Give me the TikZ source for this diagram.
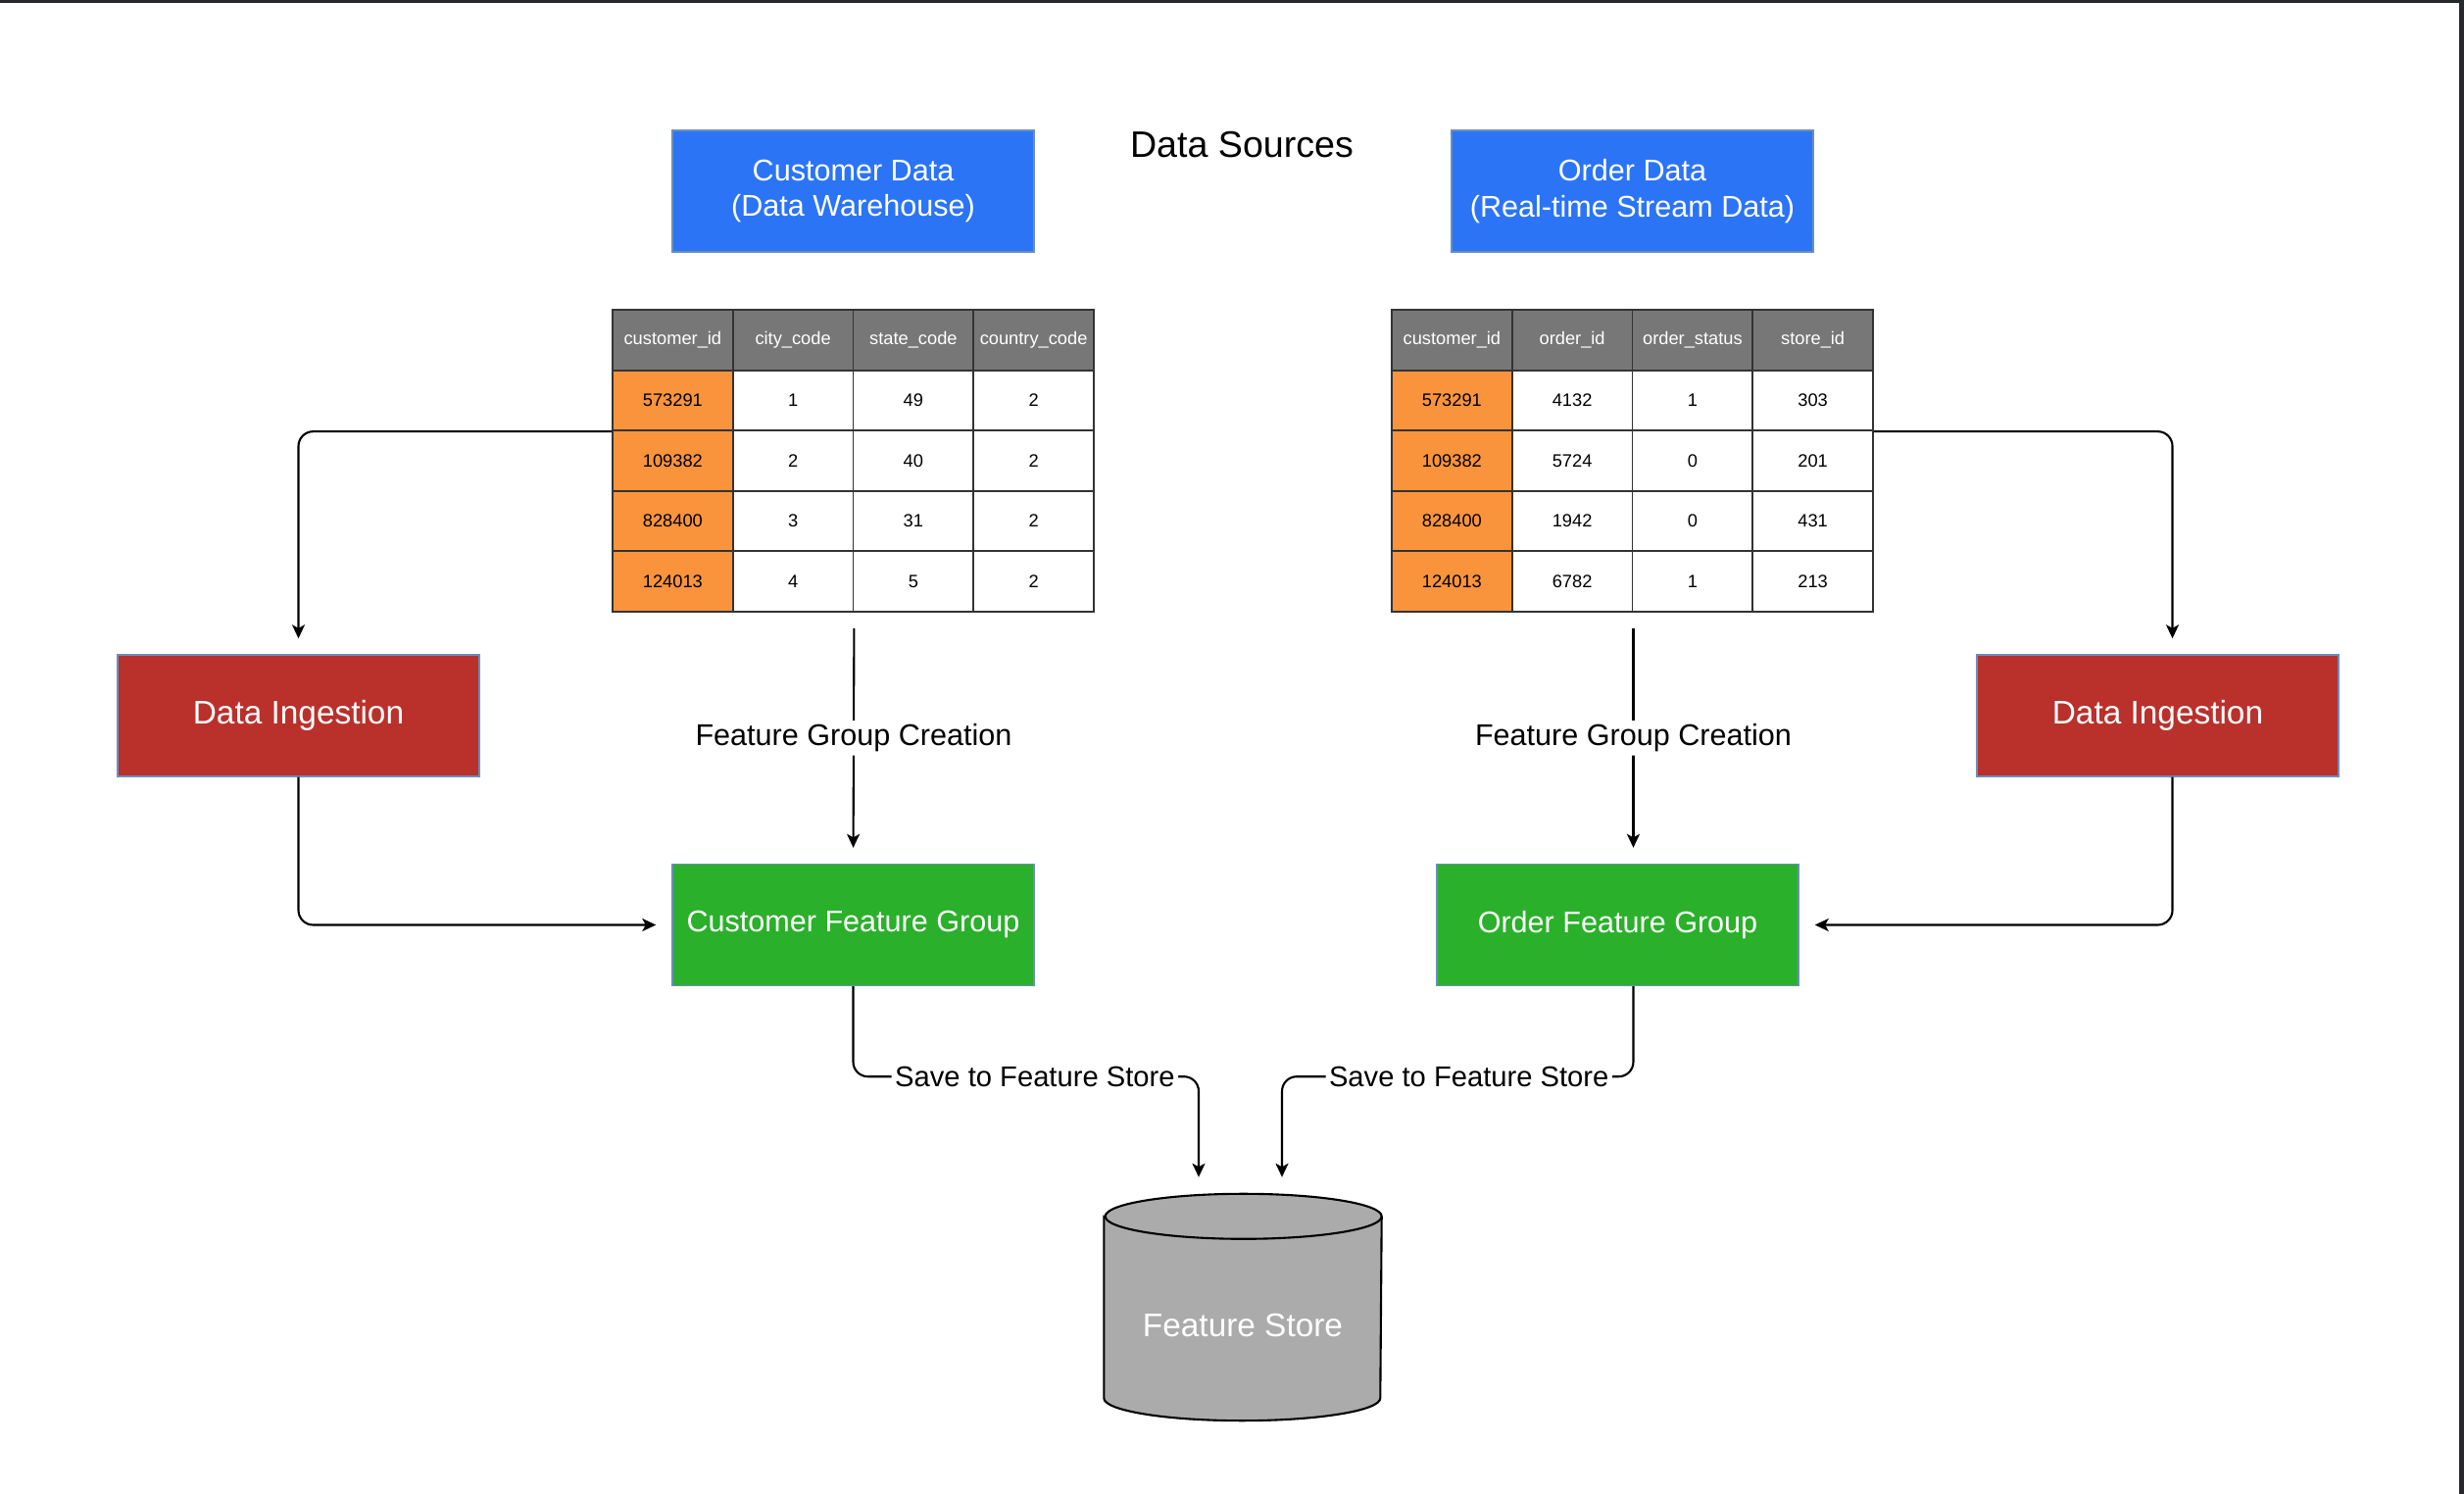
\documentclass[tikz,border=0pt]{standalone}
\usepackage{fontspec}
\setmainfont{Liberation Sans}
\usetikzlibrary{arrows.meta,positioning,calc}

\definecolor{srcblue}{HTML}{2B74F6}
\definecolor{ingred}{HTML}{BA302B}
\definecolor{fggreen}{HTML}{2AB02A}
\definecolor{hdrgray}{HTML}{777777}
\definecolor{idorange}{HTML}{FA943C}
\definecolor{storegray}{HTML}{ABABAB}
\definecolor{boxline}{HTML}{6C8EBF}
\definecolor{frame}{HTML}{26282C}

\begin{document}
\begin{tikzpicture}[
  font=\fontsize{8.7}{10.5}\selectfont,
  box/.style={draw=boxline, line width=0.4pt, rectangle, minimum width=36.9mm,
              minimum height=12.4mm, align=center, text=white, inner sep=2pt},
  src/.style={box, fill=srcblue},
  ingest/.style={box, fill=ingred, font=\fontsize{9.5}{11}\selectfont},
  fgroup/.style={box, fill=fggreen},
  cell/.style={draw=black!80, line width=0.55pt, minimum width=12.275mm,
               minimum height=6.16mm, inner sep=0pt, font=\fontsize{5.2}{6}\selectfont},
  hdr/.style={cell, fill=hdrgray, text=white},
  idcell/.style={cell, fill=idorange},
  storebox/.style={rectangle, minimum width=28.2mm, minimum height=23mm, inner sep=0pt},
  lbl/.style={fill=white, inner sep=1pt},
  savelbl/.style={lbl, font=\fontsize{8.3}{10}\selectfont},
  arrow/.style={-{Stealth[length=1.4mm, width=1.3mm, inset=0.35mm]}, line width=0.6pt,
                rounded corners=1.5mm},
]
  \useasboundingbox (0,0) rectangle (25.14,15.24);
  \fill[white] (0,0) rectangle (25.14,15.24);
  \fill[frame] (0,15.21) rectangle (25.14,15.24);
  \fill[frame] (25.09,0) rectangle (25.14,15.24);

  % data sources
  \node[font=\fontsize{10.7}{13}\selectfont] (srctitle) at (12.67,13.765) {Data Sources};
  \node[src] (custsrc) at (8.705,13.29) {Customer Data\\(Data Warehouse)};
  \node[src] (ordsrc) at (16.655,13.29) {Order Data\\(Real-time Stream Data)};

  % customer table
  \foreach \h [count=\c] in {customer\_id,city\_code,state\_code,country\_code}
    \node[hdr] (cu-0-\c) at (5.63625+1.2275*\c,11.772) {\h};
  \foreach \kid/\xa/\xb/\xc [count=\n] in
      {573291/1/49/2, 109382/2/40/2, 828400/3/31/2, 124013/4/5/2} {
    \node[idcell] (cu-\n-1) at (6.86375,11.772-0.616*\n) {\kid};
    \node[cell] (cu-\n-2) at (8.09125,11.772-0.616*\n) {\xa};
    \node[cell] (cu-\n-3) at (9.31875,11.772-0.616*\n) {\xb};
    \node[cell] (cu-\n-4) at (10.54625,11.772-0.616*\n) {\xc};
  }

  % order table
  \foreach \h [count=\c] in {customer\_id,order\_id,order\_status,store\_id}
    \node[hdr] (or-0-\c) at (13.58625+1.2275*\c,11.772) {\h};
  \foreach \kid/\xa/\xb/\xc [count=\n] in
      {573291/4132/1/303, 109382/5724/0/201, 828400/1942/0/431, 124013/6782/1/213} {
    \node[idcell] (or-\n-1) at (14.81375,11.772-0.616*\n) {\kid};
    \node[cell] (or-\n-2) at (16.04125,11.772-0.616*\n) {\xa};
    \node[cell] (or-\n-3) at (17.26875,11.772-0.616*\n) {\xb};
    \node[cell] (or-\n-4) at (18.49625,11.772-0.616*\n) {\xc};
  }

  \node[ingest] (diL) at (3.045,7.94) {Data Ingestion};
  \node[ingest] (diR) at (22.015,7.94) {Data Ingestion};
  \node[fgroup] (cfg) at (8.705,5.805) {Customer Feature Group};
  \node[fgroup] (ofg) at (16.505,5.805) {Order Feature Group};

  % feature store cylinder
  \node[storebox] (store) at (12.68,1.905) {};
  \draw[fill=storegray, line width=0.6pt]
    ($(store.north west)+(0,-0.23)$) -- ($(store.south west)+(0,0.23)$)
    arc[start angle=180, end angle=360, x radius=1.41, y radius=0.23]
    -- ($(store.north east)+(0,-0.23)$)
    arc[start angle=0, end angle=180, x radius=1.41, y radius=0.23] -- cycle;
  \draw[line width=0.6pt] ($(store.north east)+(0,-0.23)$)
    arc[start angle=0, end angle=-180, x radius=1.41, y radius=0.23];
  \node[text=white, font=\fontsize{9.5}{11}\selectfont] (storelbl)
    at ([yshift=-1.85mm]store.center) {Feature Store};

  % ingestion paths
  \draw[arrow, shorten >=1.6mm] (cu-1-1.south west) -| (diL.north);
  \draw[arrow, shorten >=1.6mm] (diL.south) |- (cfg.west);
  \draw[arrow, shorten >=1.6mm] (or-1-4.south east) -| ([xshift=1.5mm]diR.north);
  \draw[arrow, shorten >=1.6mm] ([xshift=1.5mm]diR.south) |- (ofg.east);

  % feature group creation
  \draw[arrow, shorten <=1.6mm, shorten >=1.6mm] (cu-4-2.south east) --
    node[lbl] {Feature Group Creation} (cfg.north);
  \draw[arrow, shorten <=1.6mm, shorten >=1.6mm] (or-4-2.south east) --
    node[lbl] {Feature Group Creation} (or-4-2.south east |- ofg.north);

  % save to store
  \draw[arrow, shorten >=1.7mm] (cfg.south) -- ++(0,-0.92)
    -| node[savelbl, pos=0.263] {Save to Feature Store} ([xshift=-4.5mm]store.north);
  \draw[arrow, shorten >=1.7mm] (or-4-2.south east |- ofg.south) -- ++(0,-0.92)
    -| node[savelbl, pos=0.234] {Save to Feature Store} ([xshift=4mm]store.north);
\end{tikzpicture}
\end{document}
